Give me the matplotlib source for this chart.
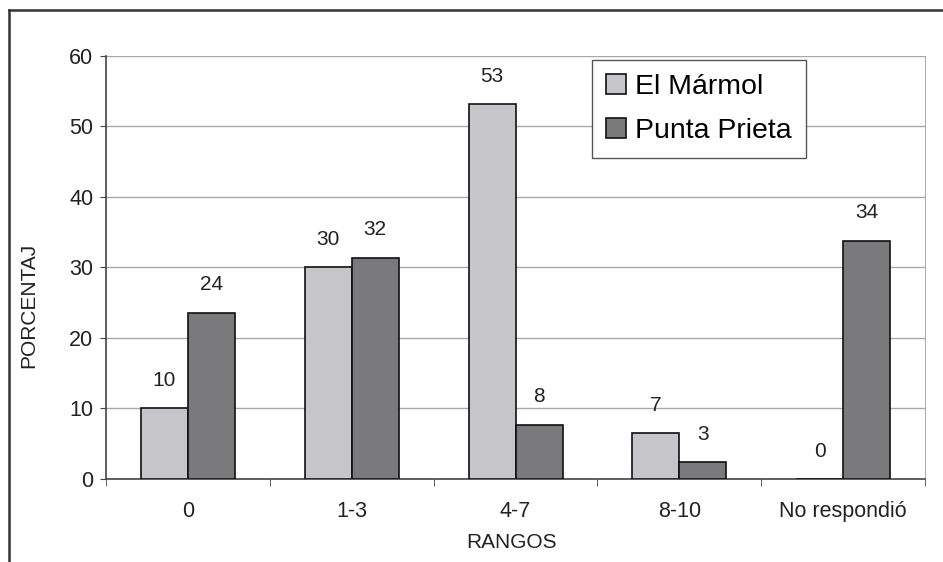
import matplotlib.pyplot as plt
import numpy as np
from matplotlib.lines import Line2D

plt.rcParams['font.family'] = ['Liberation Sans', 'DejaVu Sans']

# Datos
rangos = ['0', '1-3', '4-7', '8-10', 'No respondió']
el_marmol = [10, 30, 53.2, 6.5, 0]
punta_prieta = [23.6, 31.4, 7.7, 2.4, 33.8]
etiquetas_marmol = ['10', '30', '53', '7', '0']
etiquetas_prieta = ['24', '32', '8', '3', '34']

color_marmol = '#c6c6ca'
color_prieta = '#7a7a7c'

fig = plt.figure(figsize=(9.43, 5.62), dpi=100)
ax = fig.add_axes([0.1124, 0.1477, 0.8686, 0.7527])

x = np.arange(len(rangos))
w = 0.287
b1 = ax.bar(x - w / 2, el_marmol, w, color=color_marmol, edgecolor='#111111', linewidth=1.2,
            label='El Mármol', zorder=3)
b2 = ax.bar(x + w / 2, punta_prieta, w, color=color_prieta, edgecolor='#111111', linewidth=1.2,
            label='Punta Prieta', zorder=3)

for bars, labs in [(b1, etiquetas_marmol), (b2, etiquetas_prieta)]:
    for bar, lab in zip(bars, labs):
        ax.annotate(lab, (bar.get_x() + bar.get_width() / 2, bar.get_height()),
                    xytext=(0, 20), textcoords='offset points', ha='center', va='center',
                    fontsize=15, color='#222222')

ax.set_xlim(-0.5, len(rangos) - 0.5)
ax.set_ylim(0, 60)
ax.set_yticks(range(0, 61, 10))
ax.set_xticks(x)
ax.set_xticklabels(rangos)
ax.set_xticks(np.arange(-0.5, len(rangos), 1), minor=True)
ax.tick_params(axis='x', which='major', length=0, pad=16, labelsize=15.5, colors='#222222')
ax.tick_params(axis='x', which='minor', length=5, direction='out', color='#444444')
ax.tick_params(axis='y', length=4, labelsize=15.5, pad=5, color='#444444', labelcolor='#222222')

ax.grid(axis='y', color='#a8a8a8', linewidth=1.0, zorder=0)
ax.spines['top'].set_visible(False)
ax.spines['right'].set_color('#b0b0b0')
ax.spines['left'].set_color('#444444')
ax.spines['bottom'].set_color('#444444')
ax.spines['left'].set_linewidth(1.2)
ax.spines['bottom'].set_linewidth(1.2)

ax.set_ylabel('PORCENTAJ', fontsize=15, color='#222222')
ax.yaxis.set_label_coords(-0.083, 0.41)
ax.set_xlabel('RANGOS', fontsize=15, color='#222222')
ax.xaxis.set_label_coords(0.495, -0.128)

leg = ax.legend(loc='upper left', bbox_to_anchor=(0.5934, 0.9905), borderaxespad=0,
                fontsize=20.5, frameon=True, fancybox=False, edgecolor='#555555',
                framealpha=1, handlelength=0.7, handleheight=0.7, handletextpad=0.32,
                borderpad=0.5, labelspacing=0.62)
leg.get_frame().set_linewidth(1.0)
leg.set_zorder(5)

# marco exterior
fig.add_artist(Line2D([0.0095, 0.0095], [0, 0.982], color='#333333', linewidth=1.8))
fig.add_artist(Line2D([0.0095, 1.0], [0.982, 0.982], color='#333333', linewidth=1.8))

fig.savefig('out.png', dpi=100)
